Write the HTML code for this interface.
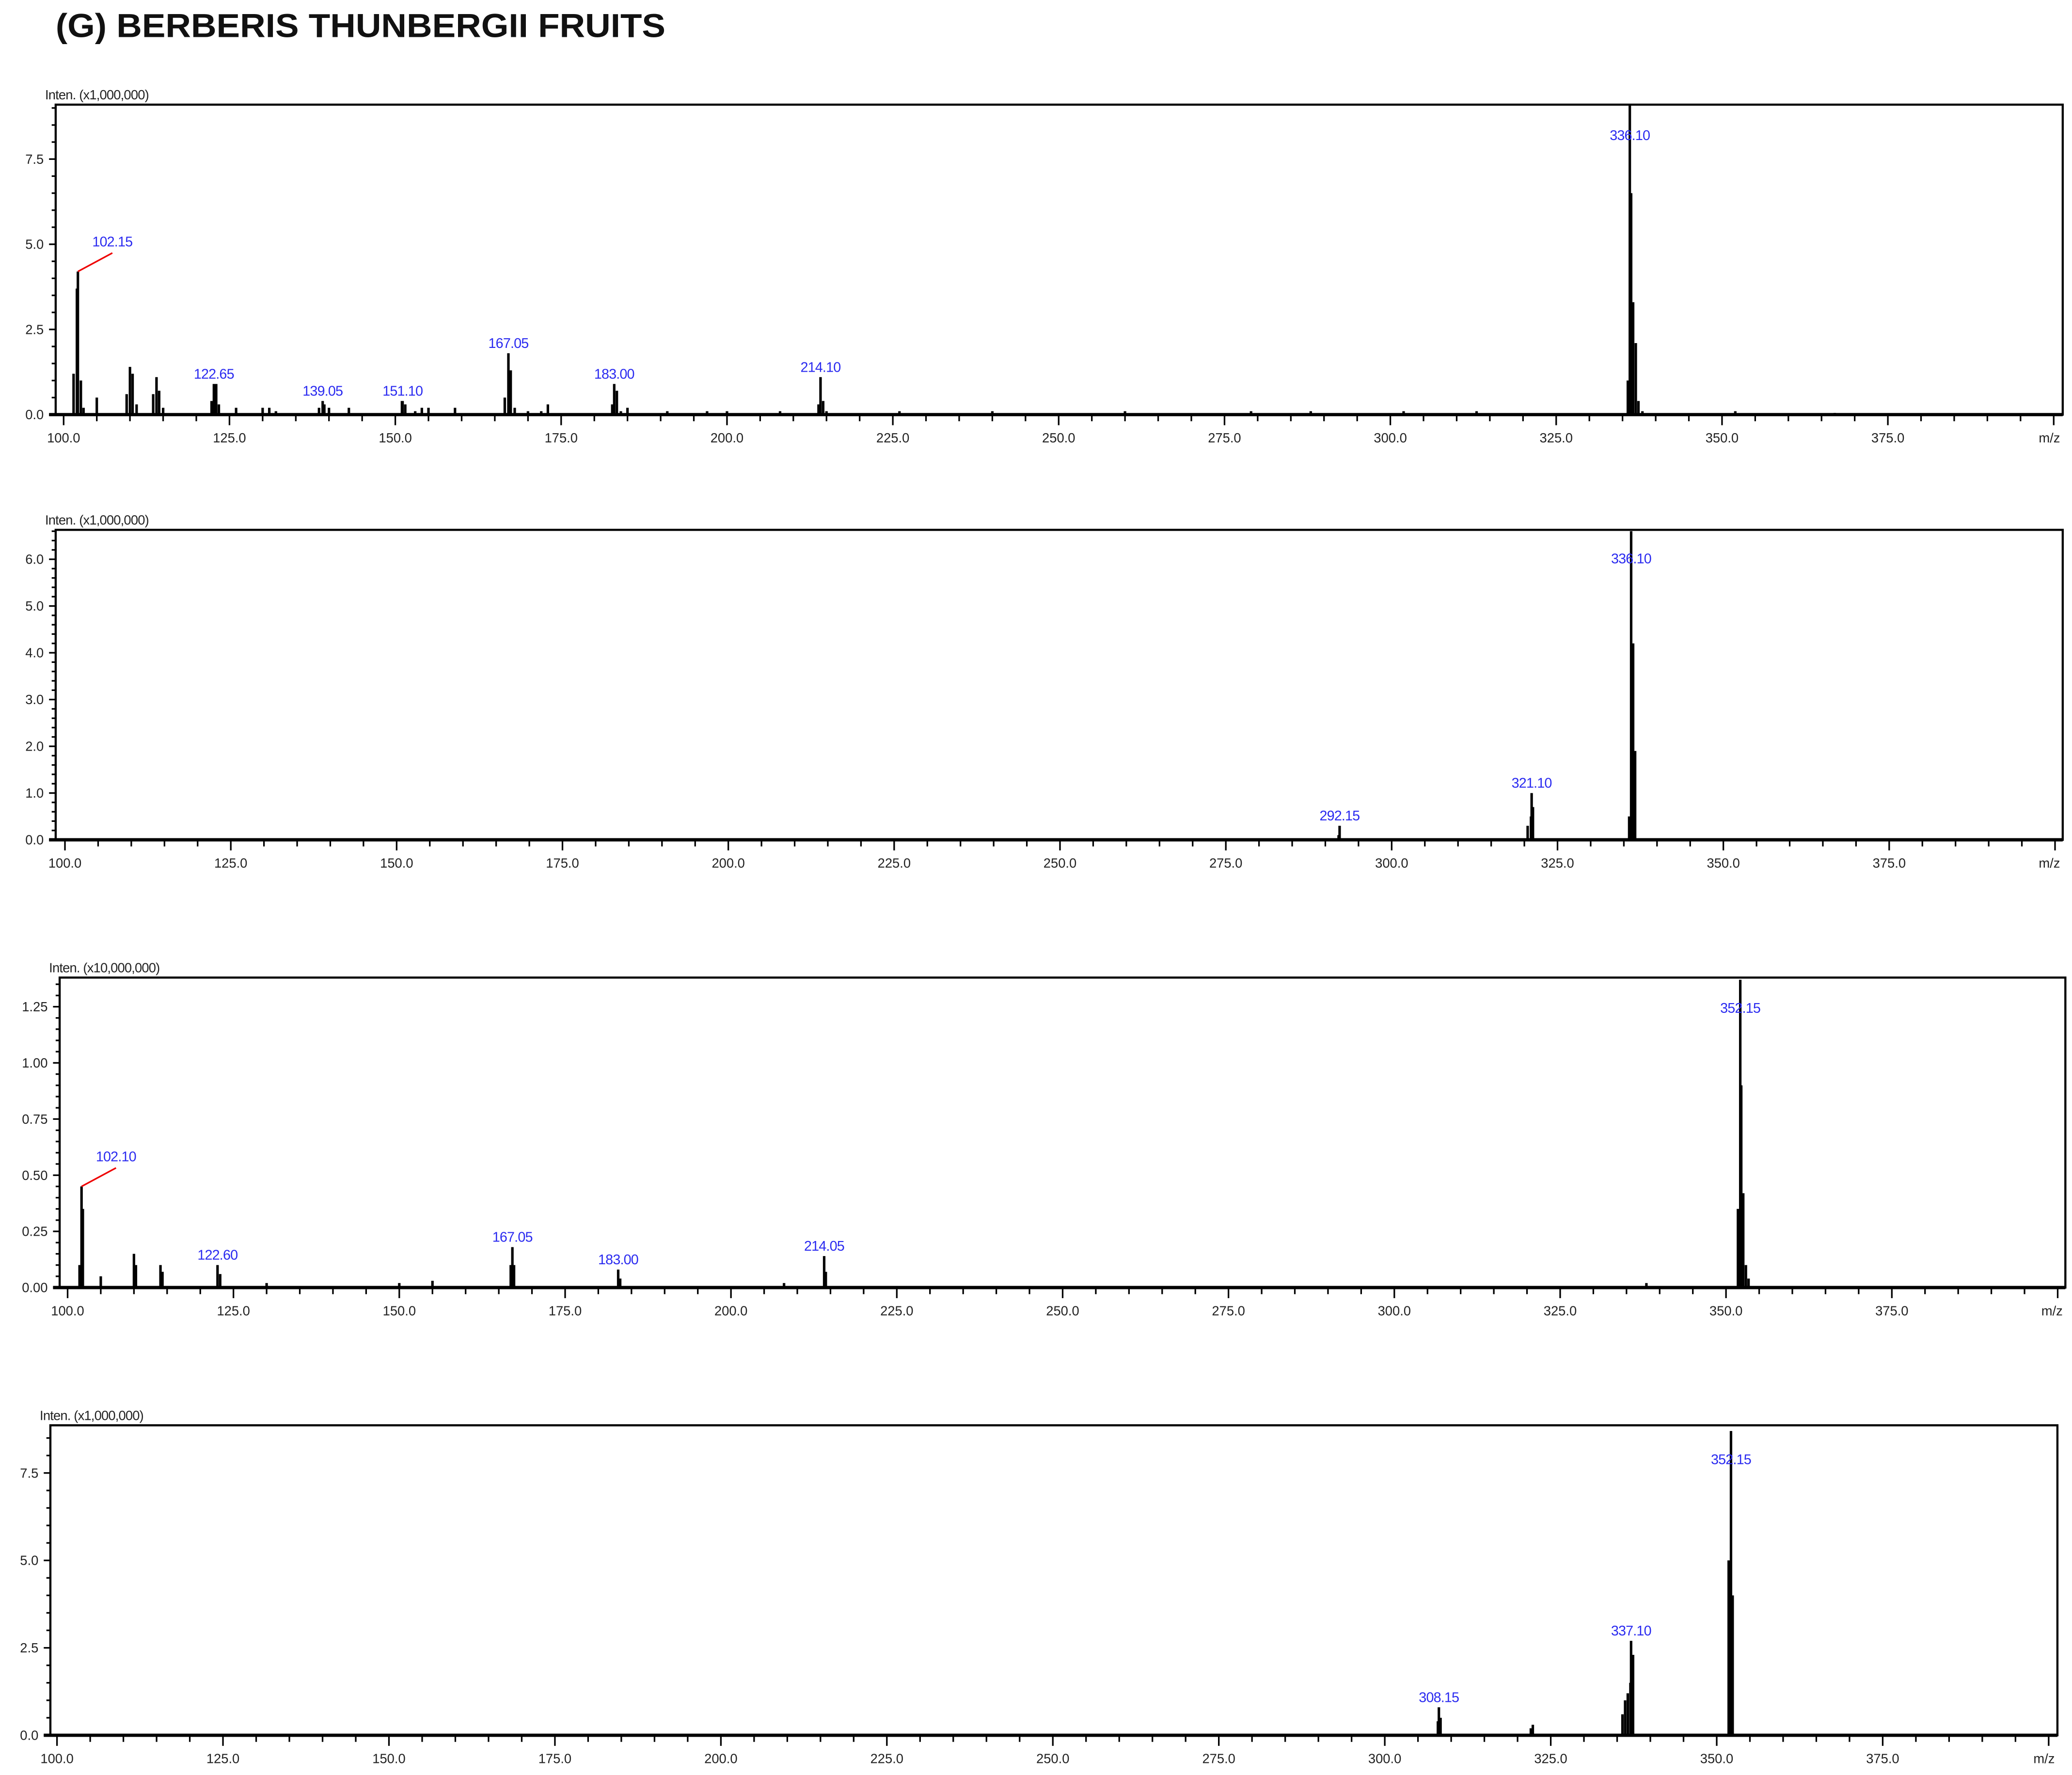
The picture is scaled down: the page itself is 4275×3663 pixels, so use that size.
<!DOCTYPE html>
<html><head><meta charset="utf-8">
<style>
html,body{margin:0;padding:0;background:#fff;}
svg{display:block;}
text{font-family:"Liberation Sans",sans-serif;}
</style></head>
<body>
<svg id="chart" width="4275" height="3663" viewBox="0 0 1563 1340" preserveAspectRatio="none" xmlns="http://www.w3.org/2000/svg">
<text x="42" y="28" font-size="25" font-weight="bold" fill="#111" textLength="460" lengthAdjust="spacingAndGlyphs">(G) BERBERIS THUNBERGII FRUITS</text>
</svg>
<script>
// Panel 1 (x1,000,000)
const p1Mz  = [101.5,102.0,102.15,102.6,103,105,109.5,110,110.4,111,113.5,114,114.4,115,122.3,122.65,123,123.4,126,130,131,132,138.5,139.05,139.3,140,143,151,151.1,151.5,153,154,155,159,166.5,167.05,167.4,168,170,172,173,182.7,183,183.4,184,185,191,197,200,208,213.8,214.1,214.5,215,226,240,260,279,288,302,313,335.8,336.1,336.3,336.6,337,337.4,338,352,367];
const p1Int = [1.2,3.7,4.2,1.0,0.2,0.5,0.6,1.4,1.2,0.3,0.6,1.1,0.7,0.2,0.4,0.9,0.9,0.3,0.2,0.2,0.2,0.1,0.2,0.4,0.3,0.2,0.2,0.4,0.4,0.3,0.1,0.2,0.2,0.2,0.5,1.8,1.3,0.2,0.1,0.1,0.3,0.3,0.9,0.7,0.1,0.2,0.1,0.1,0.1,0.1,0.3,1.1,0.4,0.1,0.1,0.1,0.1,0.1,0.1,0.1,0.1,1.0,9.1,6.5,3.3,2.1,0.4,0.1,0.1,0.05];
const p1Labels = [102.15,122.65,139.05,151.10,167.05,183.00,214.10,336.10];
const p1LabelInt = [4.2,0.9,0.4,0.4,1.8,0.9,1.1,7.9];
const p1YTicks = [0,2.5,5.0,7.5];
// Panel 2 (x1,000,000)
const p2Mz  = [292,292.15,320.5,321,321.1,321.3,335.8,336.1,336.4,336.7];
const p2Int = [0.1,0.3,0.3,0.5,1.0,0.7,0.5,6.6,4.2,1.9];
const p2Labels = [292.15,321.10,336.10];
const p2LabelInt = [0.3,1.0,5.8];
const p2YTicks = [0,1,2,3,4,5,6];
// Panel 3 (x10,000,000)
const p3Mz  = [101.8,102.1,102.3,105,110,110.3,114,114.3,122.6,123,130,150,155,166.8,167.05,167.3,183,183.3,208,214.05,214.3,338,351.8,352.15,352.3,352.6,353,353.4];
const p3Int = [0.1,0.45,0.35,0.05,0.15,0.1,0.1,0.07,0.1,0.06,0.02,0.02,0.03,0.1,0.18,0.1,0.08,0.04,0.02,0.14,0.07,0.02,0.35,1.37,0.9,0.42,0.1,0.04];
const p3Labels = [102.10,122.60,167.05,183.00,214.05,352.15];
const p3LabelInt = [0.45,0.1,0.18,0.08,0.14,1.2];
const p3YTicks = [0,0.25,0.5,0.75,1.0,1.25];
// Panel 4 (x1,000,000)
const p4Mz  = [308,308.15,308.4,322,322.3,335.8,336.2,336.6,337,337.1,337.4,351.8,352.15,352.4];
const p4Int = [0.4,0.8,0.5,0.2,0.3,0.6,1.0,1.2,1.5,2.7,2.3,5.0,8.7,4.0];
const p4Labels = [308.15,337.10,352.15];
const p4LabelInt = [0.8,2.7,7.6];
const p4YTicks = [0,2.5,5.0,7.5];
const xTicks = [100,125,150,175,200,225,250,275,300,325,350,375];

const NS='http://www.w3.org/2000/svg';
const svg=document.getElementById('chart');
function mk(tag,attrs,parent){const e=document.createElementNS(NS,tag);for(const k in attrs)e.setAttribute(k,attrs[k]);(parent||svg).appendChild(e);return e;}

function panel(id,cfg,mz,inten,labels,labelInt,yTicks){
  const g=mk('g',{});
  
  
  const {left,right,top,bottom,x100,perTick,yPer,yStep,yMinor,yDec,unit,leader}=cfg;
  const xs=v=>x100+(v-100)/25*perTick;
  const ys=v=>bottom-v/yStep*yPer;
  const t=mk('text',{x:left-8,y:top-4,'font-size':10,fill:'#222','letter-spacing':'-0.3'},g);
  t.textContent='Inten. ('+unit+')';
  
  
  const yMax=(bottom-top)/yPer*yStep;
  for(let v=0;v<=yMax+1e-9;v+=yMinor){
    const y=ys(v);
    const major=Math.abs(v/yStep-Math.round(v/yStep))<1e-6;
    mk('line',{x1:left-(major?5:3),x2:left,y1:y,y2:y,stroke:'#000','stroke-width':1.2},g);
  }
  yTicks.forEach(v=>{
    const tx=mk('text',{x:left-9,y:ys(v)+3.5,'font-size':10,'text-anchor':'end',fill:'#222'},g);
    tx.textContent=v.toFixed(yDec);
    
    
  });
  for(let v=95;v<=400;v+=5){
    const x=xs(v); if(x<left-1||x>right+1)continue;
    const major=v%25===0;
    mk('line',{x1:x,x2:x,y1:bottom,y2:bottom+(major?8:5),stroke:'#000','stroke-width':1.2},g);
  }
  xTicks.forEach(v=>{
    const tx=mk('text',{x:xs(v),y:bottom+21,'font-size':10,'text-anchor':'middle',fill:'#222'},g);
    tx.textContent=v.toFixed(1);
    
    
  });
  const mzl=mk('text',{x:right-2,y:bottom+21,'font-size':10,'text-anchor':'end',fill:'#222'},g);
  mzl.textContent='m/z';
  
  
  mz.forEach((m,i)=>{
    const b=mk('line',{x1:xs(m),x2:xs(m),y1:bottom,y2:Math.max(top,ys(inten[i])),stroke:'#000','stroke-width':1.9},g);
    
    
  });
  mk('rect',{x:left,y:top,width:right-left,height:bottom-top,fill:'none',stroke:'#000','stroke-width':1.6},g);
  mk('line',{x1:left-5,x2:right,y1:bottom,y2:bottom,stroke:'#000','stroke-width':2.5},g);
  labels.forEach((m,i)=>{
    let lx=xs(m), ly=ys(labelInt[i])-4;
    if(i===0 && leader){
      const px=xs(m), py=ys(labelInt[i]);
      const ln=mk('line',{x1:px,y1:py,x2:px+26,y2:py-14,stroke:'#e00','stroke-width':1.2},g);
      
      
      lx=px+26; ly=py-19;
    }
    const tx=mk('text',{x:lx,y:ly,'font-size':10.5,'text-anchor':'middle',fill:'#2a2af0','letter-spacing':'-0.3'},g);
    tx.textContent=m.toFixed(2);
    
    
  });
}
panel('panel-1',{left:42,right:1556,top:79,bottom:313,x100:48,perTick:125.1,yPer:64.3,yStep:2.5,yMinor:0.5,yDec:1,unit:'x1,000,000',leader:true},p1Mz,p1Int,p1Labels,p1LabelInt,p1YTicks);
panel('panel-2',{left:42,right:1556,top:400,bottom:634,x100:49,perTick:125.1,yPer:35.3,yStep:1,yMinor:0.2,yDec:1,unit:'x1,000,000',leader:false},p2Mz,p2Int,p2Labels,p2LabelInt,p2YTicks);
panel('panel-3',{left:45,right:1558,top:738,bottom:972,x100:51,perTick:125.1,yPer:42.4,yStep:0.25,yMinor:0.05,yDec:2,unit:'x10,000,000',leader:true},p3Mz,p3Int,p3Labels,p3LabelInt,p3YTicks);
panel('panel-4',{left:38,right:1552,top:1076,bottom:1310,x100:43,perTick:125.2,yPer:66,yStep:2.5,yMinor:0.5,yDec:1,unit:'x1,000,000',leader:false},p4Mz,p4Int,p4Labels,p4LabelInt,p4YTicks);
</script>
</body></html>
